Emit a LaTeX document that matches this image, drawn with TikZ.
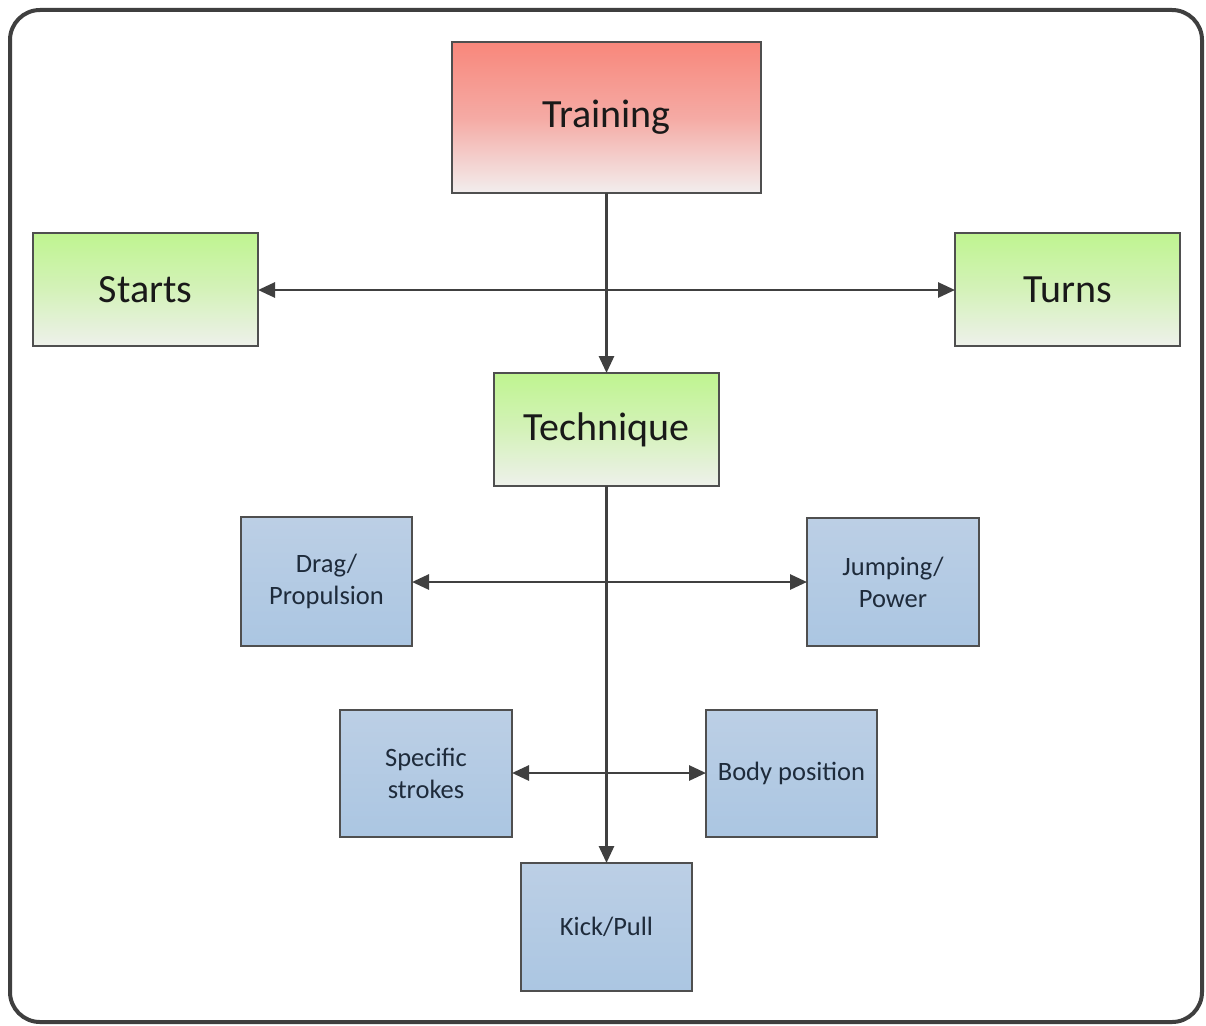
\documentclass[tikz,border=0pt]{standalone}
\usepackage{fontspec}
\setmainfont{Carlito}
\usetikzlibrary{arrows.meta}
\definecolor{framegray}{HTML}{3F3F3F}
\definecolor{linegray}{HTML}{404040}
\definecolor{boxedge}{HTML}{4F4F4F}
\definecolor{redtop}{HTML}{F8877B}
\definecolor{redmid}{HTML}{F5AAA4}
\definecolor{redbot}{HTML}{F2EEEE}
\definecolor{greentop}{HTML}{BFF490}
\definecolor{greenmid}{HTML}{D4F2B9}
\definecolor{greenbot}{HTML}{EEF1EB}
\definecolor{bluetop}{HTML}{BCCFE5}
\definecolor{bluebot}{HTML}{ABC6E2}
\definecolor{navytext}{HTML}{1E2B3B}
\tikzset{
  x=1pt, y=-1pt,
  box/.style={draw=boxedge, line width=1.3pt, inner sep=0pt, outer sep=0pt,
    align=center, anchor=north west},
  redbox/.style={box, top color=redtop, bottom color=redbot, middle color=redmid,
    font=\fontsize{40}{48}\selectfont, text=black!90},
  greenbox/.style={box, top color=greentop, bottom color=greenbot, middle color=greenmid,
    font=\fontsize{40}{48}\selectfont, text=black!90},
  bluebox/.style={box, top color=bluetop, bottom color=bluebot,
    font=\fontsize{26.5}{32}\selectfont, text=navytext},
  tip/.tip={Triangle[length=17pt,width=15pt]},
  link/.style={draw=linegray, line width=2.8pt, -tip},
  twoway/.style={draw=linegray, line width=2.8pt, tip-tip},
}
\begin{document}
\begin{tikzpicture}
\useasboundingbox (0,0) rectangle (1206,1025);
\fill[white] (0,0) rectangle (1206,1025);
% outer frame
\draw[framegray, line width=4pt, rounded corners=30pt] (10,10) rectangle (1202,1022);

% boxes
\node[redbox, minimum width=309pt, minimum height=151pt] (training) at (452,42) {Training};
\node[greenbox, minimum width=225pt, minimum height=113pt] (starts) at (33,233) {Starts};
\node[greenbox, minimum width=225pt, minimum height=113pt] (turns) at (955,233) {Turns};
\node[greenbox, minimum width=225pt, minimum height=113pt] (technique) at (494,373) {Technique};
\node[bluebox, minimum width=171pt, minimum height=129pt] (drag) at (241,517) {Drag/\\Propulsion};
\node[bluebox, minimum width=172pt, minimum height=128pt] (jump) at (807,518) {Jumping/\\Power};
\node[bluebox, minimum width=172pt, minimum height=127pt] (strokes) at (340,710) {Specific\\strokes};
\node[bluebox, minimum width=171pt, minimum height=127pt] (body) at (706,710) {Body position};
\node[bluebox, minimum width=171pt, minimum height=128pt] (kick) at (521,863) {Kick/Pull};

% connectors
\draw[twoway] (starts.east |- 0,290) -- (turns.west |- 0,290);
\draw[link] (training.south) -- (technique.north);
\draw[twoway] (drag.east |- 0,582) -- (jump.west |- 0,582);
\draw[twoway] (strokes.east |- 0,773) -- (body.west |- 0,773);
\draw[link] (technique.south) -- (kick.north);
\end{tikzpicture}
\end{document}
